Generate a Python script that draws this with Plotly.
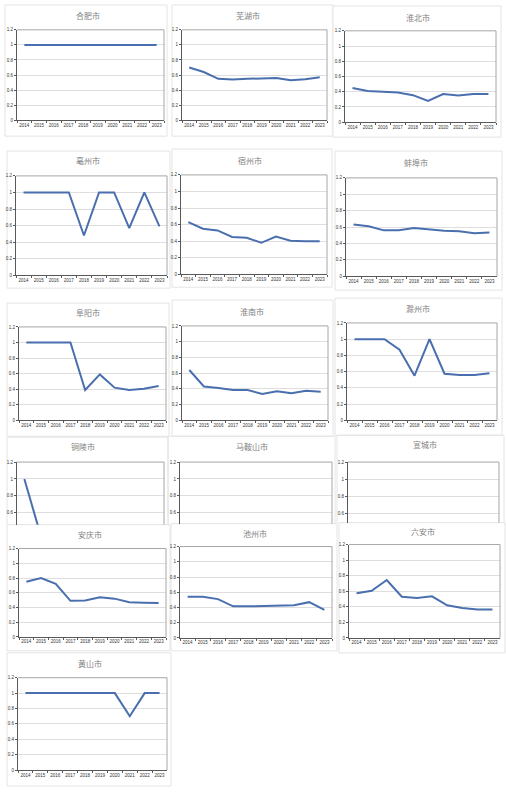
import plotly.graph_objects as go

W, H = 506, 792

years = ["2014", "2015", "2016", "2017", "2018", "2019", "2020", "2021", "2022", "2023"]
y_ticks = [0, 0.2, 0.4, 0.6, 0.8, 1.0, 1.2]
y_tick_labels = ["0", "0.2", "0.4", "0.6", "0.8", "1", "1.2"]

hefei = [1.0, 1.0, 1.0, 1.0, 1.0, 1.0, 1.0, 1.0, 1.0, 1.0]
wuhu = [0.70, 0.64, 0.55, 0.54, 0.55, 0.56, 0.56, 0.53, 0.545, 0.57]
huaibei = [0.45, 0.41, 0.40, 0.39, 0.355, 0.28, 0.37, 0.35, 0.37, 0.37]
bozhou = [1.0, 1.0, 1.0, 1.0, 0.48, 1.0, 1.0, 0.57, 1.0, 0.59]
suzhou = [0.63, 0.55, 0.53, 0.45, 0.44, 0.38, 0.455, 0.405, 0.40, 0.40]
bengbu = [0.63, 0.61, 0.56, 0.56, 0.59, 0.575, 0.555, 0.55, 0.525, 0.535]
fuyang = [1.0, 1.0, 1.0, 1.0, 0.39, 0.59, 0.42, 0.39, 0.405, 0.44]
huainan = [0.64, 0.43, 0.41, 0.385, 0.385, 0.335, 0.37, 0.345, 0.375, 0.365]
chuzhou = [1.0, 1.0, 1.0, 0.87, 0.55, 1.0, 0.575, 0.56, 0.56, 0.58]
# lower part of these three panels is covered by the next row in the reference
tongling = [1.0, 0.40, None, None, None, None, None, None, None, None]
maanshan = [None] * 10
xuancheng = [None] * 10
anqing = [0.75, 0.80, 0.72, 0.49, 0.495, 0.54, 0.52, 0.47, 0.465, 0.46]
chizhou = [0.54, 0.54, 0.51, 0.415, 0.415, 0.42, 0.43, 0.43, 0.47, 0.37]
luan = [0.575, 0.605, 0.745, 0.53, 0.515, 0.535, 0.42, 0.385, 0.365, 0.365]
huangshan = [1.0, 1.0, 1.0, 1.0, 1.0, 1.0, 1.0, 0.70, 1.0, 1.0]

names = ["合肥市", "芜湖市", "淮北市", "亳州市", "宿州市", "蚌埠市", "阜阳市", "淮南市",
         "滁州市", "铜陵市", "马鞍山市", "宣城市", "安庆市", "池州市", "六安市", "黄山市"]
series = [hefei, wuhu, huaibei, bozhou, suzhou, bengbu, fuyang, huainan,
          chuzhou, tongling, maanshan, xuancheng, anqing, chizhou, luan, huangshan]

# layout geometry in pixels: plot (L, R, T, B, ymin), frame (x0, y0, x1, y1), title (x, y), clipped flag
panels = [
    ((17, 164, 28, 119, 0), (5, 3, 167, 135), (88, 14), False),
    ((182, 327, 28, 119, 0), (172, 3, 333, 135), (248, 14), False),
    ((345, 496, 29, 121, 0), (333, 4, 501, 136), (418, 16), False),
    ((16, 167, 175, 275, 0), (7, 150, 170, 288), (88, 160), False),
    ((181, 327, 174, 274, 0), (172, 148, 332, 287), (250, 160), False),
    ((346, 497, 177, 276, 0), (335, 150, 502, 290), (416, 162), False),
    ((19, 166, 327, 421, 0), (7, 303, 169, 437), (88, 312), False),
    ((182, 328, 326, 421, 0), (172, 300, 333, 437), (252, 311), False),
    ((347, 497, 323, 421, 0), (335, 298, 502, 436), (418, 308), False),
    ((17, 164, 463, 526, 0.459), (7, 438, 168, 526), (83, 447), True),
    ((180, 332, 463, 525, 0.471), (168, 437, 335, 525), (252, 447), True),
    ((348, 499, 463, 524, 0.496), (337, 436, 504, 524), (425, 445), True),
    ((19, 166, 550, 639, 0), (7, 526, 170, 653), (90, 536), False),
    ((180, 332, 548, 640, 0), (171, 525, 337, 653), (255, 535), False),
    ((349, 500, 546, 640, 0), (339, 524, 505, 655), (423, 533), False),
    ((18, 167, 680, 773, 0), (7, 655, 171, 789), (90, 666), False),
]


def px(x):
    return x / W


def py(y):
    return 1 - y / H


fig = go.Figure()
shapes = []
annotations = []
line_color = "#4a6fae"
axis_color = "#595959"
grid_color = "#dedede"
border_color = "#a6a6a6"
frame_color = "#e4e4e4"
tick_font = dict(size=4.5, color="#333333", family="Liberation Sans, Arial")

for i, (name, vals, (plot, frame, title, clipped)) in enumerate(zip(names, series, panels)):
    L, R, T, B, ymin = plot
    idx = "" if i == 0 else str(i + 1)
    fig.add_trace(go.Scatter(
        x=years, y=vals, mode="lines",
        line=dict(color=line_color, width=2),
        xaxis="x" + idx, yaxis="y" + idx, showlegend=False, hoverinfo="skip",
        connectgaps=False,
    ))
    fig.layout["xaxis" + idx] = dict(
        domain=[px(L), px(R)], anchor="y" + idx, type="category",
        range=[-0.5, 9.5], showgrid=False, zeroline=False,
        showline=not clipped, linecolor=axis_color, linewidth=1,
        ticks="" if clipped else "outside", tickson="boundaries",
        ticklen=2, tickcolor=axis_color, tickwidth=1,
        showticklabels=not clipped, tickangle=0,
        tickfont=tick_font, fixedrange=True,
    )
    fig.layout["yaxis" + idx] = dict(
        domain=[py(B), py(T)], anchor="x" + idx,
        range=[ymin, 1.2], tickvals=y_ticks, ticktext=y_tick_labels,
        showgrid=True, gridcolor=grid_color, gridwidth=1, zeroline=False,
        showline=True, linecolor=axis_color, linewidth=1,
        ticks="outside", ticklen=2, tickcolor=axis_color, tickwidth=1,
        tickfont=tick_font, fixedrange=True,
    )
    x0, y0, x1, y1 = frame
    if clipped:
        shapes.append(dict(type="path", xref="paper", yref="paper", layer="below",
                           path=f"M {px(x0)} {py(y1)} L {px(x0)} {py(y0)} L {px(x1)} {py(y0)} L {px(x1)} {py(y1)}",
                           line=dict(color=frame_color, width=1)))
    else:
        shapes.append(dict(type="rect", xref="paper", yref="paper", layer="below",
                           x0=px(x0), x1=px(x1), y0=py(y1), y1=py(y0),
                           line=dict(color=frame_color, width=1), fillcolor="white"))
    shapes.append(dict(type="path", xref="paper", yref="paper", layer="above",
                       path=f"M {px(L)} {py(T)} L {px(R)} {py(T)} L {px(R)} {py(B)}",
                       line=dict(color=border_color, width=1)))
    tx, ty = title
    annotations.append(dict(text=name, x=px(tx), y=py(ty), xref="paper", yref="paper",
                            showarrow=False, xanchor="center", yanchor="middle",
                            font=dict(size=8, color="#7f7f7f", family="Noto Sans CJK SC")))

fig.update_layout(
    width=W, height=H,
    margin=dict(l=0, r=0, t=0, b=0),
    paper_bgcolor="white", plot_bgcolor="white",
    shapes=shapes, annotations=annotations,
    showlegend=False,
)

fig.write_html("out.html", config={"displayModeBar": False},
               post_script="document.body.style.margin='0';document.body.style.padding='0';")
